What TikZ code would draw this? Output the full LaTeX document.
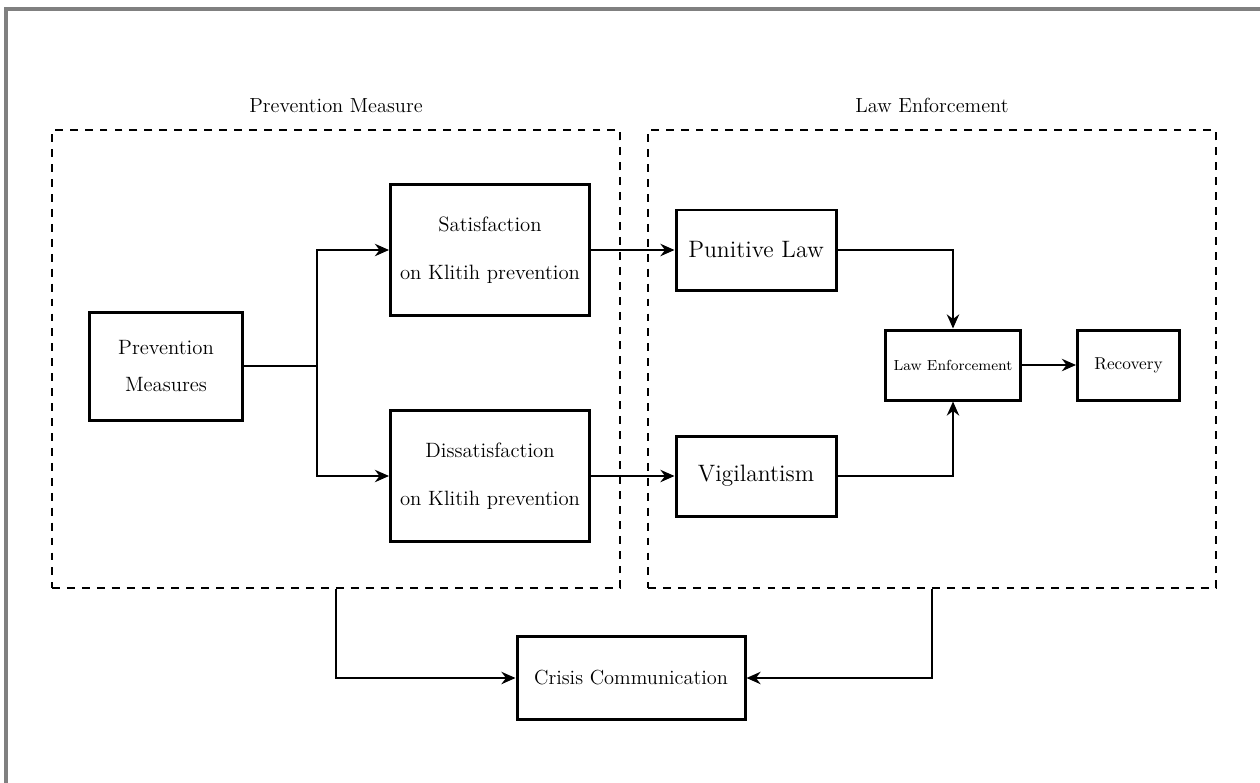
\documentclass[tikz,border=0pt]{standalone}
\usepackage{tikz}
\usetikzlibrary{arrows.meta, positioning, calc}

\begin{document}
\begin{tikzpicture}[
    node distance=0.3cm,
    box/.style={rectangle, draw=black, line width=1.7pt, align=center,
                inner sep=0pt, font=\fontsize{11.8}{14}\selectfont},
    group/.style={rectangle, draw=black, line width=1.6pt, dash pattern=on 4.5pt off 4pt,
                  minimum width=11.36cm, minimum height=9.16cm, inner sep=0pt},
    title/.style={font=\fontsize{11.6}{13}\selectfont},
    link/.style={-{Stealth[length=8pt,width=7pt]}, line width=1.6pt},
    plain/.style={line width=1.6pt},
]
\useasboundingbox (0,0) rectangle (25.2,-15.64);

% Frame
\draw[gray, line width=1.8pt] (0.12,-15.8) -- (0.12,-0.18) -- (25.4,-0.18);

% Groups
\node[group] (prevgroup) at (6.72,-7.18) {};
\node[group] (lawgroup) at (18.64,-7.18) {};
\node[title, above=0.2cm of prevgroup] (prevtitle) {Prevention Measure};
\node[title, above=0.2cm of lawgroup] (lawtitle) {Law Enforcement};

% Prevention side
\node[box, minimum width=3.06cm, minimum height=2.16cm] (measures) at (3.32,-7.32)
    {Prevention\\[7pt]Measures};
\node[box, minimum width=3.98cm, minimum height=2.62cm] (satis) at (9.8,-5.0)
    {Satisfaction\\[13pt]on Klitih prevention};
\node[box, minimum width=3.98cm, minimum height=2.62cm] (dissatis) at (9.8,-9.52)
    {Dissatisfaction\\[13pt]on Klitih prevention};

% Law side
\node[box, minimum width=3.2cm, minimum height=1.6cm, font=\fontsize{13.5}{15}\selectfont] (punitive) at (15.12,-5.0)
    {Punitive Law};
\node[box, minimum width=3.2cm, minimum height=1.6cm, font=\fontsize{13.5}{15}\selectfont] (vigil) at (15.12,-9.52)
    {Vigilantism};
\node[box, minimum width=2.7cm, minimum height=1.4cm, font=\fontsize{8.3}{10}\selectfont] (enforce) at (19.06,-7.3)
    {Law Enforcement};
\node[box, minimum width=2.04cm, minimum height=1.4cm, font=\fontsize{9.8}{11}\selectfont, right=1.08cm of enforce] (recovery)
    {Recovery};

% Bottom
\node[box, minimum width=4.56cm, minimum height=1.66cm, font=\fontsize{11.6}{14}\selectfont] (crisis) at (12.62,-13.56)
    {Crisis Communication};

% Connectors
\coordinate (split) at (6.34,-7.32);
\draw[plain] (measures.east) -- (split);
\draw[link] (split) |- (satis.west);
\draw[link] (split) |- (dissatis.west);
\draw[link] (satis.east) -- (punitive.west);
\draw[link] (dissatis.east) -- (vigil.west);
\draw[link] (punitive.east) -| (enforce.north);
\draw[link] (vigil.east) -| (enforce.south);
\draw[link] (enforce.east) -- (recovery.west);
\draw[link] (prevgroup.south) |- (crisis.west);
\draw[link] (lawgroup.south) |- (crisis.east);

\end{tikzpicture}
\end{document}
